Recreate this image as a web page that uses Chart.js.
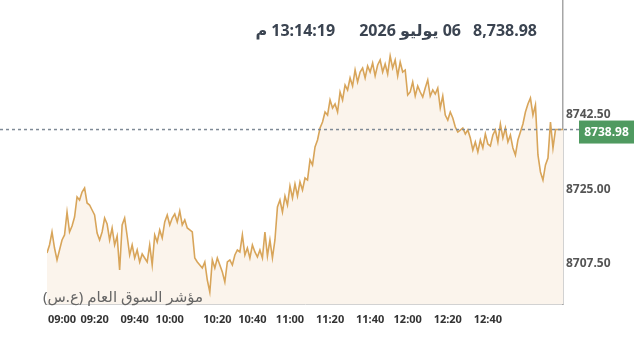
<!DOCTYPE html>
<html>
<head>
<meta charset="utf-8">
<script src="https://cdn.jsdelivr.net/npm/chart.js@4.4.1/dist/chart.umd.min.js"></script>
<style>
    html, body { margin: 0; padding: 0; background: #fff; }
    #wrap { position: relative; width: 640px; height: 359px; }
    #header {
        position: absolute; top: 19px; right: 103px;
        direction: rtl; white-space: nowrap;
        font: bold 16px "Noto Sans", "DejaVu Sans", sans-serif; color: #3b4451;
    }
    #header span { display: inline-block; }
    #indexName {
        position: absolute; top: 286px; right: 437px;
        direction: rtl; white-space: nowrap;
        font: 15px "Noto Sans", "DejaVu Sans", sans-serif; color: #666;
    }
</style>
</head>
<body>
<div id="wrap">
    <canvas id="tasiChart"></canvas>
    <div id="header"><span style="margin-left:12px">8,738.98</span><span style="margin-left:24px">06 يوليو 2026</span><span>13:14:19 م</span></div>
    <div id="indexName">مؤشر السوق العام (ع.س)</div>
</div>
<script>
// intraday index values (equal steps along the x axis)
let pricesOpen = [
    8710.07, 8711.95, 8714.99, 8711.24, 8708.43, 8710.77, 8713.12, 8714.29, 8719.67, 8714.99, 8716.39,
    8718.50, 8723.18, 8722.48, 8724.36, 8725.29, 8721.78, 8721.31, 8720.14, 8718.97, 8714.75,
    8713.12, 8714.99, 8718.27, 8716.86, 8713.12, 8715.93, 8711.95, 8714.05, 8706.09, 8716.63,
    8718.27, 8714.05, 8709.60, 8711.95, 8708.90, 8710.77, 8707.97, 8709.84, 8708.90, 8707.97,
    8711.95, 8707.26, 8714.29, 8712.65, 8715.46, 8713.58, 8717.33, 8718.97, 8716.63, 8718.27,
]
let pricesLate = [
    8719.20, 8717.33, 8719.91, 8716.63, 8717.80, 8715.93, 8715.46, 8714.99, 8708.90, 8707.97,
    8707.26, 8706.56, 8707.97, 8703.75, 8700.94, 8708.43, 8706.56, 8708.90, 8707.26, 8705.62,
    8703.28, 8707.97, 8708.43, 8707.26, 8709.60, 8710.77, 8710.31, 8714.29, 8709.60, 8711.24,
    8708.90, 8711.95, 8710.31, 8709.14, 8710.77, 8708.90, 8714.99, 8709.37, 8713.12, 8708.90,
]
let pricesRally = [
    8713.12, 8720.84, 8722.48, 8719.67, 8723.42, 8721.31, 8725.76, 8722.95, 8726.23, 8723.42,
    8726.70, 8724.82, 8727.63, 8727.16, 8731.85, 8730.68, 8734.89, 8736.53, 8739.34, 8740.74,
    8743.09, 8742.38, 8745.90, 8744.02, 8744.96, 8743.09, 8747.77, 8745.90, 8749.41, 8748.24,
    8751.05, 8749.17, 8752.92, 8750.11, 8752.45, 8753.39, 8751.05, 8753.86, 8752.45, 8754.56,
]
let pricesTop = [
    8751.52, 8754.09, 8755.26, 8752.45, 8754.33, 8751.98, 8756.20, 8753.39, 8755.26, 8751.52,
    8754.79, 8752.45, 8752.92, 8747.07, 8747.77, 8750.11, 8746.83, 8749.17, 8747.77, 8746.60,
    8748.71, 8750.58, 8746.83, 8748.24, 8747.30, 8748.71, 8744.02, 8746.83, 8742.38, 8741.21,
    8743.09, 8741.68, 8739.57, 8738.40, 8738.87, 8739.34, 8737.94, 8738.87, 8737.00, 8734.19,
]
let pricesClose = [
    8736.06, 8733.72, 8736.53, 8734.66, 8737.94, 8735.59, 8735.13, 8737.70, 8738.87, 8736.06,
    8740.28, 8737.00, 8739.34, 8736.06, 8737.70, 8734.66, 8733.02, 8736.53, 8738.40, 8740.28,
    8743.09, 8744.96, 8746.36, 8742.38, 8744.73, 8733.02, 8729.04, 8727.16, 8730.68, 8732.32,
    8740.74, 8734.66, 8738.98, 8738.98, 8738.98, 8738.98,
]

let tickLabels = ['09:00', '09:20', '09:40', '10:00', '10:20', '10:40', '11:00', '11:20', '11:40', '12:00', '12:20', '12:40']
// sample number at which each time label sits
let tickIndex = [6, 19, 35, 49, 68, 82, 97, 113, 129, 144, 160, 176]
let priceTicks = [8707.5, 8725, 8742.5]
let lastPrice = 8738.98

let prices = [].concat(pricesOpen, pricesLate, pricesRally, pricesTop, pricesClose)
let points = prices.map((v, i) => ({ x: i, y: v }))

const lastPriceLine = {
    id: 'lastPriceLine',
    afterDatasetsDraw(chart) {
        const c = chart.ctx
        const y = chart.scales.y.getPixelForValue(lastPrice)
        c.save()
        c.strokeStyle = '#7f8a96'
        c.lineWidth = 1.5
        c.setLineDash([3, 3])
        c.beginPath()
        c.moveTo(0, y)
        c.lineTo(580, y)
        c.stroke()
        c.setLineDash([])
        c.fillStyle = '#4f9a60'
        c.fillRect(579, y - 9, 55, 23)
        c.fillStyle = '#fff'
        c.font = 'bold 12px "Noto Sans", sans-serif'
        c.textAlign = 'center'
        c.textBaseline = 'middle'
        c.fillText(lastPrice.toFixed(2), 606.5, y + 3)
        c.restore()
    }
}

const ctx = document.getElementById('tasiChart').getContext('2d')
let chart = new Chart(ctx, {
    type: 'line',
    data: {
        datasets: [{
            data: points,
            borderColor: '#d8a55a',
            backgroundColor: '#fbf4ec',
            borderWidth: 1.6,
            pointRadius: 0,
            tension: 0,
            fill: 'start',
        }]
    },
    options: {
        responsive: true,
        maintainAspectRatio: false,
        animation: false,
        layout: { padding: { left: 47, top: 0, right: 0, bottom: 0 } },
        plugins: {
            legend: { display: false },
            tooltip: { enabled: false },
        },
        scales: {
            x: {
                type: 'linear',
                min: 0,
                max: prices.length - 1,
                grid: { display: false, drawTicks: false },
                border: { display: true, color: '#d2d2d2', width: 1 },
                afterBuildTicks: (s) => { s.ticks = tickIndex.map(v => ({ value: v })) },
                afterFit: (s) => { s.height = 55; s.paddingLeft = 0; s.paddingRight = 0 },
                ticks: {
                    autoSkip: false,
                    maxRotation: 0,
                    padding: 9,
                    color: '#333',
                    font: { family: '"Noto Sans", sans-serif', size: 11, weight: 'bold' },
                    callback: (v) => tickLabels[tickIndex.indexOf(v)],
                },
            },
            y: {
                position: 'right',
                min: 8698.13,
                max: 8769.31,
                grid: { display: false, drawTicks: false },
                border: { display: true, color: '#a6a6a6', width: 1.5 },
                afterBuildTicks: (s) => { s.ticks = priceTicks.map(v => ({ value: v })) },
                afterFit: (s) => { s.width = 77; s.paddingTop = 0; s.paddingBottom = 0 },
                ticks: {
                    padding: 3,
                    color: '#555',
                    font: { family: '"Noto Sans", sans-serif', size: 12, weight: 'bold' },
                    callback: (v) => v.toFixed(2),
                },
            },
        },
    },
    plugins: [lastPriceLine],
})
</script>
</body>
</html>
